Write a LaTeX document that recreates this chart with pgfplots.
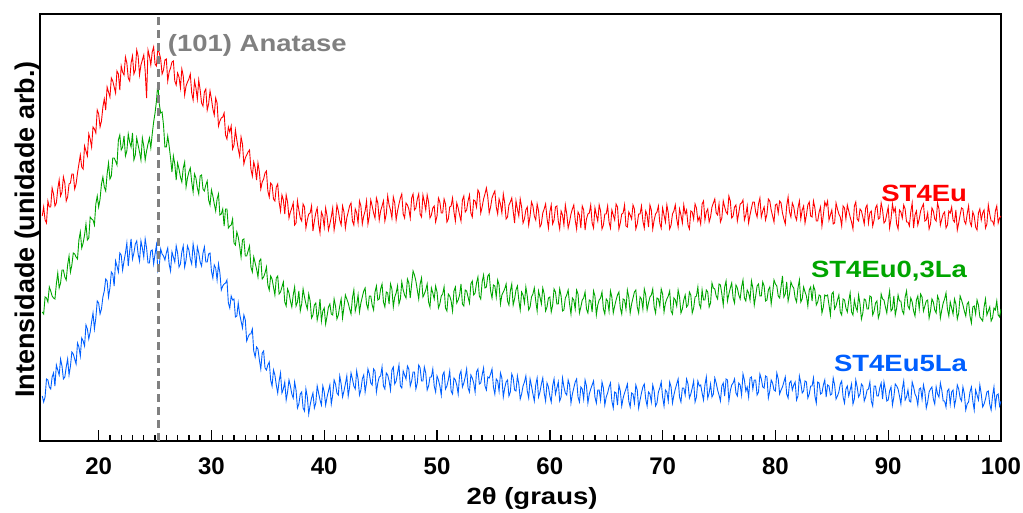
\documentclass[border=0pt]{standalone}
\usepackage{fontspec}
\setmainfont{Liberation Sans}
\newfontfamily\stretchsans{Liberation Sans}[FakeStretch=1.17]
\usepackage{pgfplots}
\usepackage{pgfplotstable}
\pgfplotsset{compat=1.18}
\definecolor{cred}{RGB}{255,0,0}
\definecolor{cgreen}{RGB}{0,165,0}
\definecolor{cblue}{RGB}{0,95,255}
\definecolor{cgray}{RGB}{128,128,128}
\pgfplotstableread{
x r g b
15.00 225 129 45
15.125 234 127 39
15.25 221 144 44
15.375 218 143 62
15.50 240 139 61
15.625 234 154 54
15.75 234 150 52
15.875 253 145 64
16.00 247 143 68
16.125 235 142 55
16.25 238 157 76
16.375 252 168 71
16.50 261 153 66
16.625 245 158 82
16.75 249 171 75
16.875 264 171 62
17.00 258 164 64
17.125 240 161 74
17.25 244 176 82
17.375 257 185 66
17.50 258 169 75
17.625 267 176 89
17.75 267 188 87
17.875 252 187 82
18.00 257 184 77
18.125 268 182 98
18.25 277 201 94
18.375 286 209 85
18.50 274 193 103
18.625 272 198 100
18.75 295 206 95
18.875 290 217 116
19.00 285 201 112
19.125 307 203 102
19.25 302 224 109
19.375 294 222 119
19.50 314 221 128
19.625 312 216 112
19.75 308 237 123
19.875 331 245 140
20.00 327 234 138
20.125 314 242 127
20.25 320 257 132
20.375 334 264 144
20.50 342 254 150
20.625 331 250 162
20.75 354 267 160
20.875 349 278 144
21.00 344 262 153
21.125 363 265 169
21.25 360 283 167
21.375 354 283 155
21.50 348 280 180
21.625 370 276 175
21.75 367 301 169
21.875 351 306 188
22.00 375 291 186
22.125 369 294 171
22.25 366 305 180
22.375 384 285 188
22.50 378 290 198
22.625 363 307 175
22.75 360 299 190
22.875 378 294 202
23.00 385 308 182
23.125 367 281 188
23.25 371 286 197
23.375 391 303 200
23.50 385 296 187
23.625 366 289 180
23.75 376 281 200
23.875 381 303 193
24.00 386 295 184
24.125 370 281 202
24.25 343 290 193
24.375 391 297 178
24.50 385 303 178
24.625 376 293 190
24.75 389 307 191
24.875 394 319 177
25.00 377 328 187
25.125 375 340 196
25.25 393 358 170
25.375 388 337 175
25.50 382 328 192
25.625 367 329 187
25.75 371 316 185
25.875 381 294 181
26.00 382 294 188
26.125 360 305 193
26.25 369 295 177
26.375 373 283 170
26.50 379 269 189
26.625 380 285 184
26.75 360 277 179
26.875 356 261 195
27.00 368 278 188
27.125 364 272 174
27.25 353 264 177
27.375 372 259 189
27.50 365 273 195
27.625 346 279 174
27.75 355 254 181
27.875 359 263 195
28.00 362 269 191
28.125 367 273 182
28.25 348 259 177
28.375 341 249 197
28.50 360 267 188
28.625 353 263 173
28.75 342 253 194
28.875 361 247 188
29.00 351 265 179
29.125 338 266 175
29.25 335 252 188
29.375 349 250 194
29.50 352 256 179
29.625 331 260 179
29.75 337 241 187
29.875 350 236 188
30.00 342 251 170
30.125 332 245 163
30.25 326 237 176
30.375 343 230 173
30.50 338 242 161
30.625 315 247 177
30.75 320 226 168
30.875 323 227 151
31.00 324 232 155
31.125 328 215 157
31.25 306 232 158
31.375 302 232 161
31.50 314 213 138
31.625 309 215 133
31.75 315 216 145
31.875 292 222 141
32.00 296 198 142
32.125 311 196 124
32.25 301 209 125
32.375 292 204 138
32.50 285 195 127
32.625 304 184 120
32.75 297 201 113
32.875 277 202 126
33.00 283 185 121
33.125 286 185 100
33.25 289 190 104
33.375 291 195 107
33.50 272 174 107
33.625 265 169 112
33.75 279 184 90
33.875 273 178 84
34.00 261 172 94
34.125 278 164 92
34.25 269 180 81
34.375 252 182 72
34.50 259 162 88
34.625 262 164 90
34.75 268 168 73
34.875 270 174 71
35.00 250 156 76
35.125 244 151 79
35.25 258 165 61
35.375 256 162 55
35.50 242 154 71
35.625 240 146 66
35.75 254 163 56
35.875 257 165 48
36.00 239 147 60
36.125 230 149 68
36.25 246 154 48
36.375 241 159 52
36.50 227 139 59
36.625 246 135 41
36.75 239 152 49
36.875 223 148 61
37.00 229 140 55
37.125 233 134 47
37.25 238 146 43
37.375 216 154 59
37.50 218 135 51
37.625 240 139 33
37.75 231 150 37
37.875 223 130 47
38.00 220 137 49
38.125 237 152 33
38.25 234 144 30
38.375 213 137 52
38.50 221 132 44
38.625 227 147 27
38.75 228 140 36
38.875 235 123 43
39.00 210 126 48
39.125 220 136 33
39.25 228 138 38
39.375 233 121 55
39.50 217 128 48
39.625 208 142 41
39.75 229 120 36
39.875 225 130 55
40.00 214 133 49
40.125 233 117 36
40.25 225 125 44
40.375 211 134 50
40.50 217 137 56
40.625 224 127 37
40.75 233 126 46
40.875 211 142 61
41.00 220 135 57
41.125 236 122 48
41.25 230 126 46
41.375 221 135 65
41.50 216 142 57
41.625 235 123 44
41.75 229 134 50
41.875 213 146 57
42.00 223 142 65
42.125 229 138 45
42.25 235 132 54
42.375 238 127 68
42.50 220 143 62
42.625 216 151 55
42.75 232 130 52
42.875 228 136 70
43.00 218 146 62
43.125 240 129 46
43.25 235 138 51
43.375 217 144 62
43.50 225 150 66
43.625 230 153 49
43.75 240 137 58
43.875 217 132 72
44.00 225 145 67
44.125 241 145 58
44.25 235 136 56
44.375 228 131 72
44.50 223 149 70
44.625 243 155 49
44.75 238 141 58
44.875 221 142 64
45.00 230 152 65
45.125 235 157 74
45.25 240 139 55
45.375 220 134 52
45.50 227 149 68
45.625 245 148 66
45.75 236 137 60
45.875 231 157 51
46.00 223 152 71
46.125 244 134 74
46.25 238 144 57
46.375 221 148 60
46.50 230 155 68
46.625 237 137 76
46.75 243 142 55
46.875 247 159 53
47.00 227 151 70
47.125 223 146 66
47.25 238 143 62
47.375 236 162 75
47.50 232 158 72
47.625 223 143 55
47.75 243 157 60
47.875 247 170 69
48.00 231 166 69
48.125 233 160 52
48.25 242 151 58
48.375 247 142 76
48.50 227 157 73
48.625 224 163 60
48.75 246 144 60
48.875 239 147 74
49.00 231 151 68
49.125 246 157 51
49.25 239 139 55
49.375 223 134 64
49.50 226 153 64
49.625 233 148 72
49.75 235 142 55
49.875 219 155 49
50.00 225 149 65
50.125 243 133 61
50.25 239 137 55
50.375 228 145 46
50.50 228 147 66
50.625 242 154 69
50.75 237 133 52
50.875 219 130 55
51.00 222 147 61
51.125 234 145 70
51.25 235 140 50
51.375 243 130 47
51.50 229 150 63
51.625 220 154 61
51.75 238 138 56
51.875 233 141 47
52.00 226 146 66
52.125 220 157 70
52.25 241 137 54
52.375 245 135 58
52.50 229 151 64
52.625 231 150 72
52.75 240 144 53
52.875 246 138 49
53.00 228 157 66
53.125 224 160 63
53.25 241 146 58
53.375 240 148 49
53.50 234 158 69
53.625 251 164 72
53.75 248 145 57
53.875 228 142 58
54.00 234 159 66
54.125 242 166 73
54.25 247 153 55
54.375 253 154 51
54.50 244 165 64
54.625 228 167 63
54.75 234 150 67
54.875 243 143 72
55.00 247 156 54
55.125 250 155 47
55.25 234 144 62
55.375 227 161 60
55.50 242 156 50
55.625 237 137 68
55.75 228 146 63
55.875 247 149 44
56.00 238 152 53
56.125 222 157 59
56.25 224 140 61
56.375 236 136 45
56.50 239 150 49
56.625 243 157 67
56.75 230 136 63
56.875 218 142 51
57.00 240 151 50
57.125 232 155 65
57.25 225 141 57
57.375 242 131 42
57.50 234 149 47
57.625 218 146 55
57.75 222 138 59
57.875 231 154 65
58.00 234 145 50
58.125 216 131 43
58.25 225 134 62
58.375 239 144 55
58.50 235 147 47
58.625 225 153 40
58.75 221 140 56
58.875 237 130 63
59.00 230 150 44
59.125 214 144 49
59.25 217 137 57
59.375 228 153 63
59.50 232 147 48
59.625 237 130 40
59.75 223 134 58
59.875 213 143 54
60.00 229 144 45
60.125 236 129 39
60.25 217 136 55
60.375 221 152 62
60.50 234 149 47
60.625 235 137 53
60.75 220 137 59
60.875 212 152 40
61.00 230 145 44
61.125 226 130 63
61.25 216 131 54
61.375 236 143 48
61.50 227 146 46
61.625 213 151 61
61.75 219 137 56
61.875 227 127 38
62.00 232 143 47
62.125 236 141 53
62.25 221 132 59
62.375 212 151 62
62.50 229 147 44
62.625 226 128 39
62.75 213 134 54
62.875 235 141 52
63.00 231 143 42
63.125 211 149 61
63.25 222 132 55
63.375 227 128 38
63.50 228 141 47
63.625 236 140 52
63.75 218 129 56
63.875 213 150 60
64.00 233 145 44
64.125 226 126 38
64.25 220 136 51
64.375 236 141 51
64.50 230 143 41
64.625 212 149 59
64.75 216 132 53
64.875 227 127 36
65.00 227 142 44
65.125 235 140 48
65.25 219 130 54
65.375 213 150 58
65.50 231 144 40
65.625 226 128 33
65.75 221 135 49
65.875 237 141 48
66.00 234 146 36
66.125 212 149 56
66.25 218 133 50
66.375 227 127 35
66.50 228 142 43
66.625 236 141 48
66.75 215 132 52
66.875 214 151 57
67.00 229 144 40
67.125 226 128 34
67.25 222 137 48
67.375 236 143 47
67.50 232 149 38
67.625 212 151 56
67.75 217 134 51
67.875 227 128 33
68.00 227 144 41
68.125 235 142 48
68.25 220 132 54
68.375 213 152 57
68.50 230 146 42
68.625 226 131 35
68.75 214 138 49
68.875 236 144 47
69.00 231 146 39
69.125 212 152 56
69.25 221 134 50
69.375 227 128 35
69.50 229 143 38
69.625 235 142 49
69.75 218 135 53
69.875 213 152 59
70.00 233 147 44
70.125 226 129 35
70.25 219 138 51
70.375 236 142 49
70.50 228 145 40
70.625 212 150 59
70.75 216 130 54
70.875 227 127 38
71.00 230 143 46
71.125 236 141 52
71.25 222 135 57
71.375 214 151 62
71.50 232 144 44
71.625 226 128 39
71.75 218 132 53
71.875 236 141 53
72.00 227 146 46
72.125 231 134 62
72.25 216 136 57
72.375 212 149 43
72.50 230 146 47
72.625 229 128 53
72.75 222 133 60
72.875 237 144 39
73.00 233 145 44
73.125 220 154 60
73.25 224 137 55
73.375 217 133 56
73.50 237 151 48
73.625 240 141 41
73.75 221 141 56
73.875 229 151 64
74.00 232 149 43
74.125 219 134 48
74.25 224 138 57
74.375 234 158 44
74.50 238 153 47
74.625 242 152 63
74.75 228 145 58
74.875 226 142 51
75.00 237 157 46
75.125 219 156 40
75.25 223 147 55
75.375 240 136 58
75.50 234 154 45
75.625 229 160 62
75.75 227 140 61
75.875 245 147 40
76.00 240 153 50
76.125 223 158 56
76.25 225 143 58
76.375 234 138 62
76.50 236 156 48
76.625 220 153 45
76.75 228 146 58
76.875 237 142 56
77.00 238 154 46
77.125 241 161 67
77.25 221 143 61
77.375 226 140 50
77.50 235 151 54
77.625 218 148 44
77.75 226 141 63
77.875 233 160 64
78.00 239 153 52
78.125 239 136 61
78.25 229 145 61
78.375 224 155 46
78.50 237 157 49
78.625 243 145 67
78.75 224 145 62
78.875 230 159 54
79.00 234 155 53
79.125 221 140 65
79.25 227 141 64
79.375 242 151 43
79.50 240 154 50
79.625 231 137 61
79.75 225 148 58
79.875 219 161 51
80.00 236 157 50
80.125 237 155 68
80.25 228 145 62
80.375 240 143 47
80.50 238 154 51
80.625 228 165 54
80.75 222 144 59
80.875 217 147 64
81.00 235 159 47
81.125 244 140 43
81.25 229 147 58
81.375 224 159 60
81.50 238 155 51
81.625 234 153 56
81.75 225 143 59
81.875 221 139 41
82.00 233 153 45
82.125 240 161 65
82.25 222 139 58
82.375 231 142 48
82.50 235 154 50
82.625 218 149 60
82.75 226 145 59
82.875 236 135 43
83.00 239 151 47
83.125 225 154 55
83.25 224 140 55
83.375 240 155 63
83.50 233 151 45
83.625 220 136 38
83.75 220 139 59
83.875 229 146 58
84.00 234 145 47
84.125 215 128 48
84.25 226 134 56
84.375 239 146 61
84.50 235 145 44
84.625 240 146 56
84.75 221 136 55
84.875 226 126 46
85.00 231 147 47
85.125 217 149 63
85.25 218 132 56
85.375 238 135 42
85.50 232 141 45
85.625 227 146 49
85.75 224 129 57
85.875 215 126 60
86.00 235 142 44
86.125 233 141 38
86.25 222 133 52
86.375 236 129 55
86.50 230 140 45
86.625 224 148 51
86.75 219 129 57
86.875 212 126 37
87.00 235 141 42
87.125 239 134 61
87.25 222 130 54
87.375 220 146 44
87.50 232 137 47
87.625 230 122 57
87.75 224 128 55
87.875 217 142 40
88.00 233 141 44
88.125 236 132 51
88.25 218 132 52
88.375 228 145 59
88.50 230 144 40
88.625 215 126 35
88.75 221 130 55
88.875 233 138 55
89.00 236 140 45
89.125 222 123 45
89.25 223 128 53
89.375 238 147 58
89.50 231 142 42
89.625 218 141 59
89.75 220 134 51
89.875 227 128 40
90.00 234 141 41
90.125 213 150 50
90.25 222 130 54
90.375 237 132 36
90.50 229 145 44
90.625 233 126 57
90.75 217 133 55
90.875 212 146 52
91.00 231 140 45
91.125 229 140 37
91.25 223 130 52
91.375 236 127 60
91.50 232 144 41
91.625 219 150 44
91.75 219 135 51
91.875 215 132 40
92.00 229 143 39
92.125 238 139 59
92.25 213 130 54
92.375 226 125 47
92.50 230 141 44
92.625 216 145 36
92.75 222 132 52
92.875 230 147 53
93.00 234 144 42
93.125 237 130 56
93.25 220 135 49
93.375 221 140 33
93.50 228 141 39
93.625 212 123 49
93.75 217 130 52
93.875 233 142 54
94.00 230 139 42
94.125 222 131 37
94.25 220 128 54
94.375 238 145 47
94.50 232 141 44
94.625 216 123 58
94.75 222 131 51
94.875 227 138 40
95.00 229 142 40
95.125 213 148 34
95.25 216 132 50
95.375 230 125 52
95.50 228 139 37
95.625 234 133 49
95.75 221 127 51
95.875 219 142 35
96.00 231 137 42
96.125 211 122 56
96.25 218 128 52
96.375 226 145 43
96.50 233 141 40
96.625 232 136 54
96.75 220 130 47
96.875 217 125 31
97.00 227 137 37
97.125 235 139 39
97.25 219 125 49
97.375 215 118 54
97.50 229 134 40
97.625 225 135 31
97.75 214 127 51
97.875 211 141 46
98.00 228 136 41
98.125 232 124 56
98.25 221 122 47
98.375 228 120 34
98.50 231 134 37
98.625 213 142 42
98.75 217 126 49
98.875 236 130 50
99.00 227 134 37
99.125 220 120 31
99.25 220 123 45
99.375 216 133 54
99.50 230 131 35
99.625 235 140 46
99.75 218 126 47
99.875 223 124 35
100.00 225 132 40
}\xrd
\begin{document}
\begin{tikzpicture}
\path[use as bounding box] (-40pt,-72pt) rectangle (983pt,441pt);
\begin{axis}[
  scale only axis, width=961pt, height=427pt,
  xmin=14.8, xmax=100, ymin=0, ymax=427,
  axis line style={line width=1.6pt},
  ytick=\empty,
  xtick={20,30,...,100}, minor x tick num=9,
  xtick pos=lower, tick align=inside,
  major tick length=11pt, minor tick length=6pt,
  every tick/.style={black, line width=1.4pt},
  /pgf/number format/assume math mode=true,
  xticklabel style={font=\fontsize{24}{28}\selectfont\bfseries, anchor=base, yshift=-34pt},
  xlabel={2θ (graus)},
  xlabel style={font=\stretchsans\fontsize{23.5}{28}\selectfont\bfseries, at={(axis description cs:0.512,0)}, anchor=base, yshift=-64pt},
  ylabel={Intensidade (unidade arb.)},
  ylabel style={font=\fontsize{27}{32}\selectfont\bfseries, at={(axis description cs:0,0.5)}, anchor=south, inner sep=0pt, xshift=-2pt},
  clip=true,
]
\addplot[cred, line width=0.9pt] table[x=x, y=r] {\xrd};
\addplot[cgreen, line width=0.9pt] table[x=x, y=g] {\xrd};
\addplot[cblue, line width=0.9pt] table[x=x, y=b] {\xrd};
\addplot[cgray, line width=2.2pt, dash pattern=on 8pt off 5pt] coordinates {(25.3,0) (25.3,427)};
\node[anchor=base west, text=cgray, font=\stretchsans\fontsize{23.5}{28}\selectfont\bfseries, inner sep=0pt] at (axis cs:26.12,389) {(101) Anatase};
\node[anchor=base east, text=cred, font=\stretchsans\fontsize{23.5}{28}\selectfont\bfseries, inner sep=0pt] at (axis cs:97.0,239) {ST4Eu};
\node[anchor=base east, text=cgreen, font=\stretchsans\fontsize{23.5}{28}\selectfont\bfseries, inner sep=0pt] at (axis cs:97.0,163) {ST4Eu0,3La};
\node[anchor=base east, text=cblue, font=\stretchsans\fontsize{23.5}{28}\selectfont\bfseries, inner sep=0pt] at (axis cs:97.0,69) {ST4Eu5La};
\end{axis}
\end{tikzpicture}
\end{document}
